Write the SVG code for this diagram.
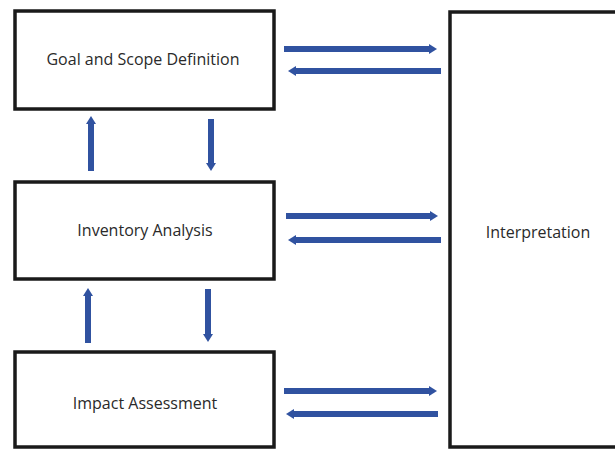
<svg xmlns="http://www.w3.org/2000/svg" width="615" height="449" viewBox="0 0 615 449">
  <style>
    .box { fill: #ffffff; stroke: #1a1a1a; stroke-width: 3.5; }
    .label { font-family: "Open Sans", "Liberation Sans", sans-serif; font-size: 16px; fill: #2a2a2a; text-anchor: middle; dominant-baseline: central; }
    .flow { stroke: #3052a0; stroke-width: 6; fill: none; marker-end: url(#head); }
  </style>
  <defs>
    <marker id="head" markerUnits="userSpaceOnUse" markerWidth="12" markerHeight="12" refX="2" refY="6" orient="auto">
      <path d="M0,1 L8,6 L0,11 Z" fill="#3052a0"/>
    </marker>
  </defs>
  <rect width="615" height="449" fill="#ffffff"/>

  <g id="goal-scope">
    <rect class="box" x="15" y="11" width="259" height="98"/>
    <text class="label" x="143" y="59">Goal and Scope Definition</text>
  </g>
  <g id="inventory">
    <rect class="box" x="15" y="182" width="259" height="97"/>
    <text class="label" x="145" y="230">Inventory Analysis</text>
  </g>
  <g id="impact">
    <rect class="box" x="15" y="352" width="259" height="95"/>
    <text class="label" x="145" y="403">Impact Assessment</text>
  </g>
  <g id="interpretation">
    <rect class="box" x="450" y="12" width="180" height="435"/>
    <text class="label" x="538" y="232">Interpretation</text>
  </g>

  <g id="connectors">
    <!-- goal/scope <-> interpretation -->
    <line class="flow" x1="284" y1="49" x2="431" y2="49"/>
    <line class="flow" x1="441" y1="71" x2="294" y2="71"/>
    <!-- inventory <-> interpretation -->
    <line class="flow" x1="286" y1="216" x2="432" y2="216"/>
    <line class="flow" x1="441" y1="240" x2="294" y2="240"/>
    <!-- impact <-> interpretation -->
    <line class="flow" x1="284" y1="391" x2="431" y2="391"/>
    <line class="flow" x1="438" y1="414" x2="292" y2="414"/>
    <!-- vertical loops -->
    <line class="flow" x1="91" y1="171" x2="91" y2="122"/>
    <line class="flow" x1="211" y1="119" x2="211" y2="165"/>
    <line class="flow" x1="88" y1="343" x2="88" y2="294"/>
    <line class="flow" x1="208" y1="289" x2="208" y2="336"/>
  </g>
</svg>
